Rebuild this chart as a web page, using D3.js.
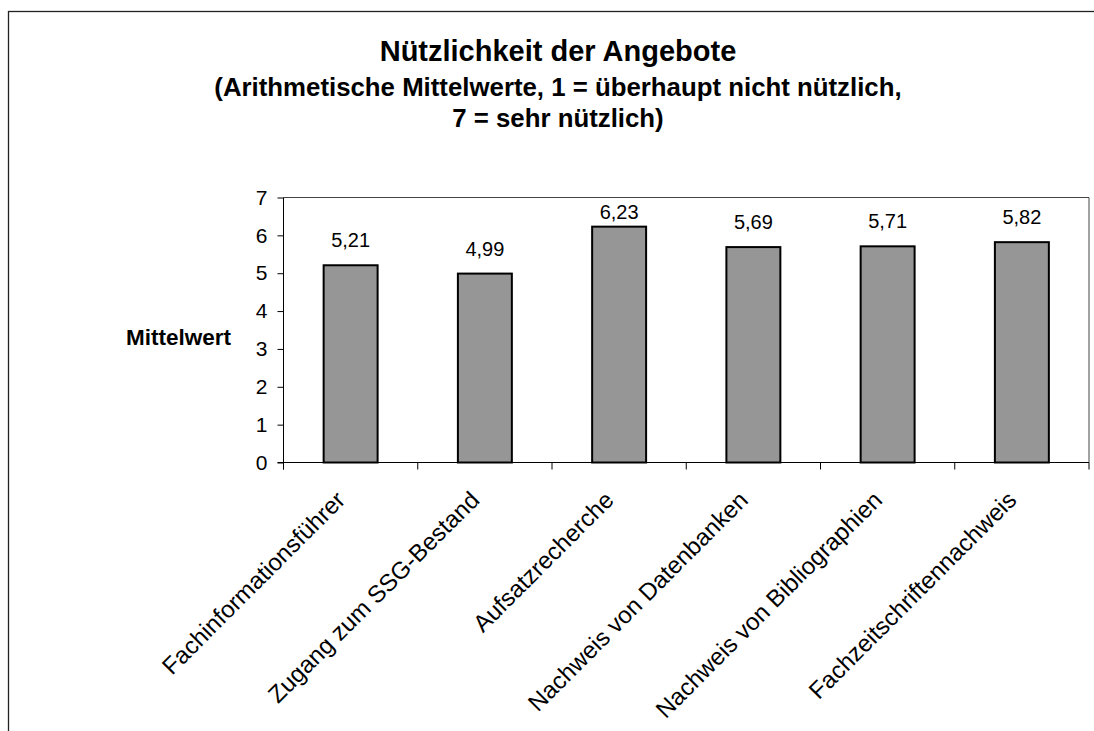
<!DOCTYPE html>
<html>
<head>
<meta charset="utf-8">
<script src="https://cdn.jsdelivr.net/npm/d3@7"></script>
<style>
  html, body { margin: 0; padding: 0; background: #fff; }
  svg { display: block; font-family: Arial, "Liberation Sans", sans-serif; }
</style>
</head>
<body>
<svg id="chart" width="1094" height="731"></svg>
<script>
const categories = [
  "Fachinformationsführer",
  "Zugang zum SSG-Bestand",
  "Aufsatzrecherche",
  "Nachweis von Datenbanken",
  "Nachweis von Bibliographien",
  "Fachzeitschriftennachweis"
];
const values = [5.21, 4.99, 6.23, 5.69, 5.71, 5.82];
const valueLabels = ["5,21", "4,99", "6,23", "5,69", "5,71", "5,82"];
const yTicks = [0, 1, 2, 3, 4, 5, 6, 7];
const titleLines = [
  "Nützlichkeit der Angebote",
  "(Arithmetische Mittelwerte, 1 = überhaupt nicht nützlich,",
  "7 = sehr nützlich)"
];
const yAxisTitle = "Mittelwert";

const svg = d3.select("#chart");

// outer chart border (extends beyond the visible window on the right/bottom)
svg.append("rect")
  .attr("x", 8.5).attr("y", 11.5)
  .attr("width", 1100).attr("height", 740)
  .attr("fill", "none").attr("stroke", "#222").attr("stroke-width", 1.3);

const plot = { left: 283.5, right: 1089, top: 197.5, bottom: 462.5 };

const x = d3.scaleBand()
  .domain(categories)
  .range([plot.left, plot.right])
  .paddingInner(0.598)
  .paddingOuter(0.299);

const xEdge = d3.scaleLinear()
  .domain([0, categories.length])
  .range([plot.left, plot.right]);

const y = d3.scaleLinear()
  .domain([0, 7])
  .range([plot.bottom, plot.top]);

// plot area frame (top and right)
svg.append("path")
  .attr("d", `M${plot.left},${plot.top}H${plot.right}V${plot.bottom}`)
  .attr("fill", "none").attr("stroke", "#444").attr("stroke-width", 1);

// bars
svg.append("g").selectAll("rect")
  .data(values)
  .join("rect")
  .attr("x", (d, i) => x(categories[i]))
  .attr("y", d => y(d))
  .attr("width", x.bandwidth())
  .attr("height", d => y(0) - y(d))
  .attr("fill", "#969696")
  .attr("stroke", "#000")
  .attr("stroke-width", 2);

// y axis
const yAxis = d3.axisLeft(y).tickValues(yTicks).tickSize(6).tickPadding(10)
  .tickFormat(d3.format("d"));
const gy = svg.append("g")
  .attr("transform", `translate(${plot.left},0)`)
  .call(yAxis);
gy.select(".domain").attr("stroke", "#000").attr("d", `M0,${plot.top}V${plot.bottom + 7}`);
gy.selectAll(".tick line").attr("stroke", "#000");
gy.selectAll(".tick text")
  .attr("font-size", 21).attr("fill", "#000")
  .attr("font-family", "Arial, 'Liberation Sans', sans-serif");

// x axis line + boundary ticks
const gx = svg.append("g");
gx.append("line")
  .attr("x1", plot.left - 6).attr("x2", plot.right)
  .attr("y1", plot.bottom).attr("y2", plot.bottom)
  .attr("stroke", "#000").attr("stroke-width", 1);
gx.selectAll("line.tk")
  .data(d3.range(categories.length + 1))
  .join("line")
  .attr("class", "tk")
  .attr("x1", d => xEdge(d)).attr("x2", d => xEdge(d))
  .attr("y1", plot.bottom).attr("y2", plot.bottom + 7)
  .attr("stroke", "#000").attr("stroke-width", 1);

// x category labels
gx.selectAll("text")
  .data(categories)
  .join("text")
  .attr("transform", d => `translate(${x(d) + x.bandwidth() / 2 - 4},${plot.bottom + 39}) rotate(-45)`)
  .attr("text-anchor", "end")
  .attr("font-size", 24)
  .attr("fill", "#000")
  .text(d => d);

// value labels
svg.append("g").selectAll("text")
  .data(values)
  .join("text")
  .attr("x", (d, i) => x(categories[i]) + x.bandwidth() / 2)
  .attr("y", d => Math.max(y(d) - 18, plot.top + 21))
  .attr("text-anchor", "middle")
  .attr("font-size", 20)
  .attr("fill", "#000")
  .text((d, i) => valueLabels[i]);

// y axis title
svg.append("text")
  .attr("x", 178.5).attr("y", 345)
  .attr("text-anchor", "middle")
  .attr("font-size", 22.5).attr("font-weight", "bold")
  .text(yAxisTitle);

// titles
const cx = 558;
svg.append("text")
  .attr("x", cx).attr("y", 61)
  .attr("text-anchor", "middle")
  .attr("font-size", 29).attr("font-weight", "bold")
  .text(titleLines[0]);
svg.append("text")
  .attr("x", cx).attr("y", 96)
  .attr("text-anchor", "middle")
  .attr("font-size", 25.8).attr("font-weight", "bold")
  .text(titleLines[1]);
svg.append("text")
  .attr("x", cx).attr("y", 127)
  .attr("text-anchor", "middle")
  .attr("font-size", 25.8).attr("font-weight", "bold")
  .text(titleLines[2]);
</script>
</body>
</html>
